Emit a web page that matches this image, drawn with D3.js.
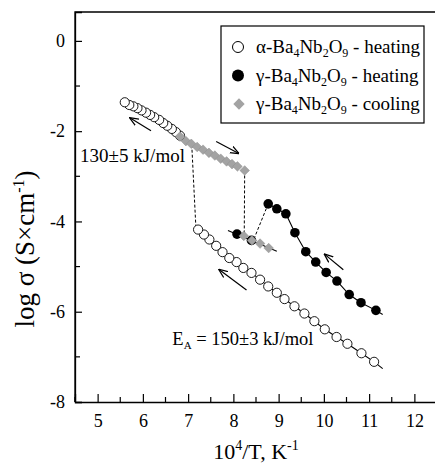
<!DOCTYPE html>
<html><head><meta charset="utf-8">
<script src="https://cdn.jsdelivr.net/npm/d3@7"></script>
<style>body{margin:0;background:#fff}svg{display:block}</style>
</head><body><svg id="c" width="435" height="463"></svg>
<script>
// alpha heating, upper branch (high T)
const alphaUpX = [5.60,5.70,5.79,5.88,5.97,6.07,6.16,6.25,6.36,6.45,6.54,6.64,6.73,6.82];
const alphaUpY = [-1.36,-1.42,-1.45,-1.49,-1.54,-1.59,-1.64,-1.69,-1.75,-1.82,-1.88,-1.95,-2.02,-2.10];
// alpha heating, lower branch
const alphaLowX = [7.22,7.35,7.47,7.62,7.76,7.91,8.07,8.22,8.40,8.59,8.77,8.96,9.13,9.35,9.57,9.79,10.02,10.28,10.52,10.83,11.11];
const alphaLowY = [-4.18,-4.29,-4.40,-4.54,-4.68,-4.81,-4.90,-5.03,-5.14,-5.29,-5.44,-5.58,-5.72,-5.88,-6.04,-6.21,-6.39,-6.56,-6.71,-6.92,-7.11];
const alphaLowLineEnd = [11.30,-7.26];
// gamma heating
const gammaHX = [8.08,8.40,8.77,8.96,9.16,9.36,9.60,9.82,10.05,10.29,10.56,10.82,11.15];
const gammaHY = [-4.28,-4.42,-3.61,-3.72,-3.83,-4.25,-4.67,-4.90,-5.13,-5.32,-5.62,-5.80,-5.97];
const gammaHLineEnd = [11.30,-6.06];
// gamma cooling
const gammaCX = [6.82,6.95,7.07,7.20,7.33,7.46,7.59,7.72,7.85,7.97,8.09,8.25,8.23,8.41,8.59,8.78];
const gammaCY = [-2.12,-2.22,-2.28,-2.35,-2.41,-2.48,-2.54,-2.61,-2.67,-2.73,-2.78,-2.87,-4.32,-4.42,-4.49,-4.59];
const lowSegLine = [[7.88,-4.20],[8.96,-4.66]];
// dashed connectors
const dashedLines = [
  [[7.08,-2.30],[7.17,-4.10]],
  [[8.25,-2.87],[8.24,-4.32]],
  [[8.77,-3.61],[8.45,-4.40]]
];
// arrows [from, to]
const arrows = [
  [[6.18,-1.99],[5.72,-1.71]],
  [[7.62,-2.23],[8.11,-2.49]],
  [[8.29,-5.52],[7.69,-5.07]],
  [[10.43,-5.07],[10.02,-4.73]]
];
const xTicks = [5,6,7,8,9,10,11,12];
const yTicks = [0,-2,-4,-6,-8];
const xDomain = [4.5,12.5];
const yDomain = [-8,0.64];

const FONT = '"Liberation Serif","Times New Roman",Times,serif';
const svg = d3.select("#c");
const L=75, T=12, R=437, B=402;
const x = d3.scaleLinear().domain(xDomain).range([L,R]);
const y = d3.scaleLinear().domain(yDomain).range([B,T]);

const defs = svg.append("defs");
defs.append("marker").attr("id","ah").attr("viewBox","0 0 10 10").attr("refX",9).attr("refY",5)
  .attr("markerWidth",9).attr("markerHeight",9).attr("markerUnits","userSpaceOnUse").attr("orient","auto")
  .append("path").attr("d","M0,1 L10,5 L0,9").attr("fill","none").attr("stroke","#000").attr("stroke-width",1.4);

// frame
svg.append("path").attr("d",`M${L},${B} L${L},${T} L${R},${T} L${R},${B}`).attr("fill","none").attr("stroke","#000").attr("stroke-width",1.3);

// axes
const xAxis = d3.axisBottom(x).tickValues(xTicks).tickSize(-8).tickPadding(12).tickFormat(d3.format("d"));
const gx = svg.append("g").attr("transform",`translate(0,${B})`).call(xAxis);
gx.attr("font-family",null).attr("font-size",null);
gx.selectAll(".tick text").style("font-family",FONT).style("font-size","18px");
gx.selectAll("line").attr("stroke-width",1.2);
gx.select(".domain").attr("stroke-width",1.3);
const xMinor = d3.range(4.5,12.6,1);
gx.selectAll(".mx").data(xMinor).enter().append("line").attr("x1",d=>x(d)).attr("x2",d=>x(d)).attr("y1",0).attr("y2",-5).attr("stroke","#000").attr("stroke-width",1.2);

const yAxis = d3.axisLeft(y).tickValues(yTicks).tickSize(-7).tickPadding(10).tickFormat(d3.format("d"));
const gy = svg.append("g").attr("transform",`translate(${L},0)`).call(yAxis);
gy.attr("font-family",null).attr("font-size",null);
gy.selectAll(".tick text").style("font-family",FONT).style("font-size","18px");
gy.selectAll("line").attr("stroke-width",1.2);
gy.select(".domain").attr("stroke-width",1.3);
const yMinor = [-1,-3,-5,-7];
gy.selectAll(".my").data(yMinor).enter().append("line").attr("y1",d=>y(d)).attr("y2",d=>y(d)).attr("x1",0).attr("x2",5).attr("stroke","#000").attr("stroke-width",1.2);
svg.selectAll(".tick text").text(function(){return this.textContent.replace("−","-");});

function txt(sel){ return sel.append("text").style("font-family",FONT).attr("fill","#000"); }

// axis labels
const yl = txt(svg).attr("transform","translate(34,249) rotate(-90)").attr("text-anchor","middle").style("font-size","27px");
yl.append("tspan").text("log σ (S×cm");
yl.append("tspan").attr("dy",-10).style("font-size","16px").text("-1");
yl.append("tspan").attr("dy",10).text(")");
const xl = txt(svg).attr("x",x(8.5)).attr("y",459).attr("text-anchor","middle").style("font-size","22px");
xl.append("tspan").text("10");
xl.append("tspan").attr("dy",-9).style("font-size","14px").text("4");
xl.append("tspan").attr("dy",9).text("/T, K");
xl.append("tspan").attr("dy",-9).style("font-size","14px").text("-1");

const line = d3.line().x(d=>x(d[0])).y(d=>y(d[1]));
const zip = (a,b)=>a.map((v,i)=>[v,b[i]]);

// dashed connectors
dashedLines.forEach(s=>svg.append("path").attr("d",line(s)).attr("fill","none").attr("stroke","#000").attr("stroke-width",1).attr("stroke-dasharray","3,2"));

// solid lines
const alphaLow = zip(alphaLowX,alphaLowY);
svg.append("path").attr("d",line(alphaLow.concat([alphaLowLineEnd]))).attr("fill","none").attr("stroke","#000").attr("stroke-width",1.1);
const gH = zip(gammaHX,gammaHY);
svg.append("path").attr("d",line(gH.slice(2).concat([gammaHLineEnd]))).attr("fill","none").attr("stroke","#000").attr("stroke-width",1.1);
svg.append("path").attr("d",line(lowSegLine)).attr("fill","none").attr("stroke","#000").attr("stroke-width",1.1);

// markers
const alphaAll = zip(alphaUpX,alphaUpY).concat(alphaLow).sort((a,b)=>b[0]-a[0]);
svg.append("g").selectAll("circle").data(alphaAll).enter().append("circle")
  .attr("cx",d=>x(d[0])).attr("cy",d=>y(d[1])).attr("r",4.6).attr("fill","#fff").attr("stroke","#000").attr("stroke-width",0.9);
svg.append("g").selectAll("circle").data(gH.slice().sort((a,b)=>b[0]-a[0])).enter().append("circle")
  .attr("cx",d=>x(d[0])).attr("cy",d=>y(d[1])).attr("r",4.8).attr("fill","#000");
const diamond = d3.symbol().type(d3.symbolSquare).size(46);
svg.append("g").selectAll("path").data(zip(gammaCX,gammaCY)).enter().append("path")
  .attr("d",diamond).attr("transform",d=>`translate(${x(d[0])},${y(d[1])}) rotate(45)`)
  .attr("fill","#a3a3a3").attr("stroke","#8f8f8f").attr("stroke-width",0.5);

// arrows
arrows.forEach(a=>svg.append("path").attr("d",line(a)).attr("stroke","#000").attr("stroke-width",1.2).attr("fill","none").attr("marker-end","url(#ah)"));

// annotations
txt(svg).attr("x",x(6.93)).attr("y",y(-2.675)).attr("text-anchor","end").style("font-size","19px").text("130±5 kJ/mol");
const ea = txt(svg).attr("x",x(9.77)).attr("y",y(-6.74)).attr("text-anchor","end").style("font-size","18.5px");
ea.append("tspan").text("E");
ea.append("tspan").attr("dy",4).style("font-size","11px").text("A");
ea.append("tspan").attr("dy",-4).text(" = 150±3 kJ/mol");

// legend
const lg = svg.append("g");
lg.append("rect").attr("x",221).attr("y",26).attr("width",203).attr("height",97).attr("fill","#fff").attr("stroke","#000").attr("stroke-width",1.2);
const entries = [
  {sym:"open", g:"α", s:"heating"},
  {sym:"fill", g:"γ", s:"heating"},
  {sym:"dia", g:"γ", s:"cooling"}
];
entries.forEach((e,i)=>{
  const cy = 47 + i*28.5;
  if(e.sym==="open") lg.append("circle").attr("cx",238).attr("cy",cy).attr("r",5.5).attr("fill","#fff").attr("stroke","#000").attr("stroke-width",1);
  else if(e.sym==="fill") lg.append("circle").attr("cx",238).attr("cy",cy).attr("r",6).attr("fill","#000");
  else lg.append("path").attr("d",d3.symbol().type(d3.symbolSquare).size(64)).attr("transform",`translate(239,${cy}) rotate(45)`).attr("fill","#a3a3a3");
  const t = txt(lg).attr("x",256).attr("y",cy+6).style("font-size","19px");
  t.append("tspan").text(e.g+"-Ba");
  t.append("tspan").attr("dy",4).style("font-size","12px").text("4");
  t.append("tspan").attr("dy",-4).text("Nb");
  t.append("tspan").attr("dy",4).style("font-size","12px").text("2");
  t.append("tspan").attr("dy",-4).text("O");
  t.append("tspan").attr("dy",4).style("font-size","12px").text("9");
  t.append("tspan").attr("dy",-4).text(" - "+e.s);
});
</script></body></html>
